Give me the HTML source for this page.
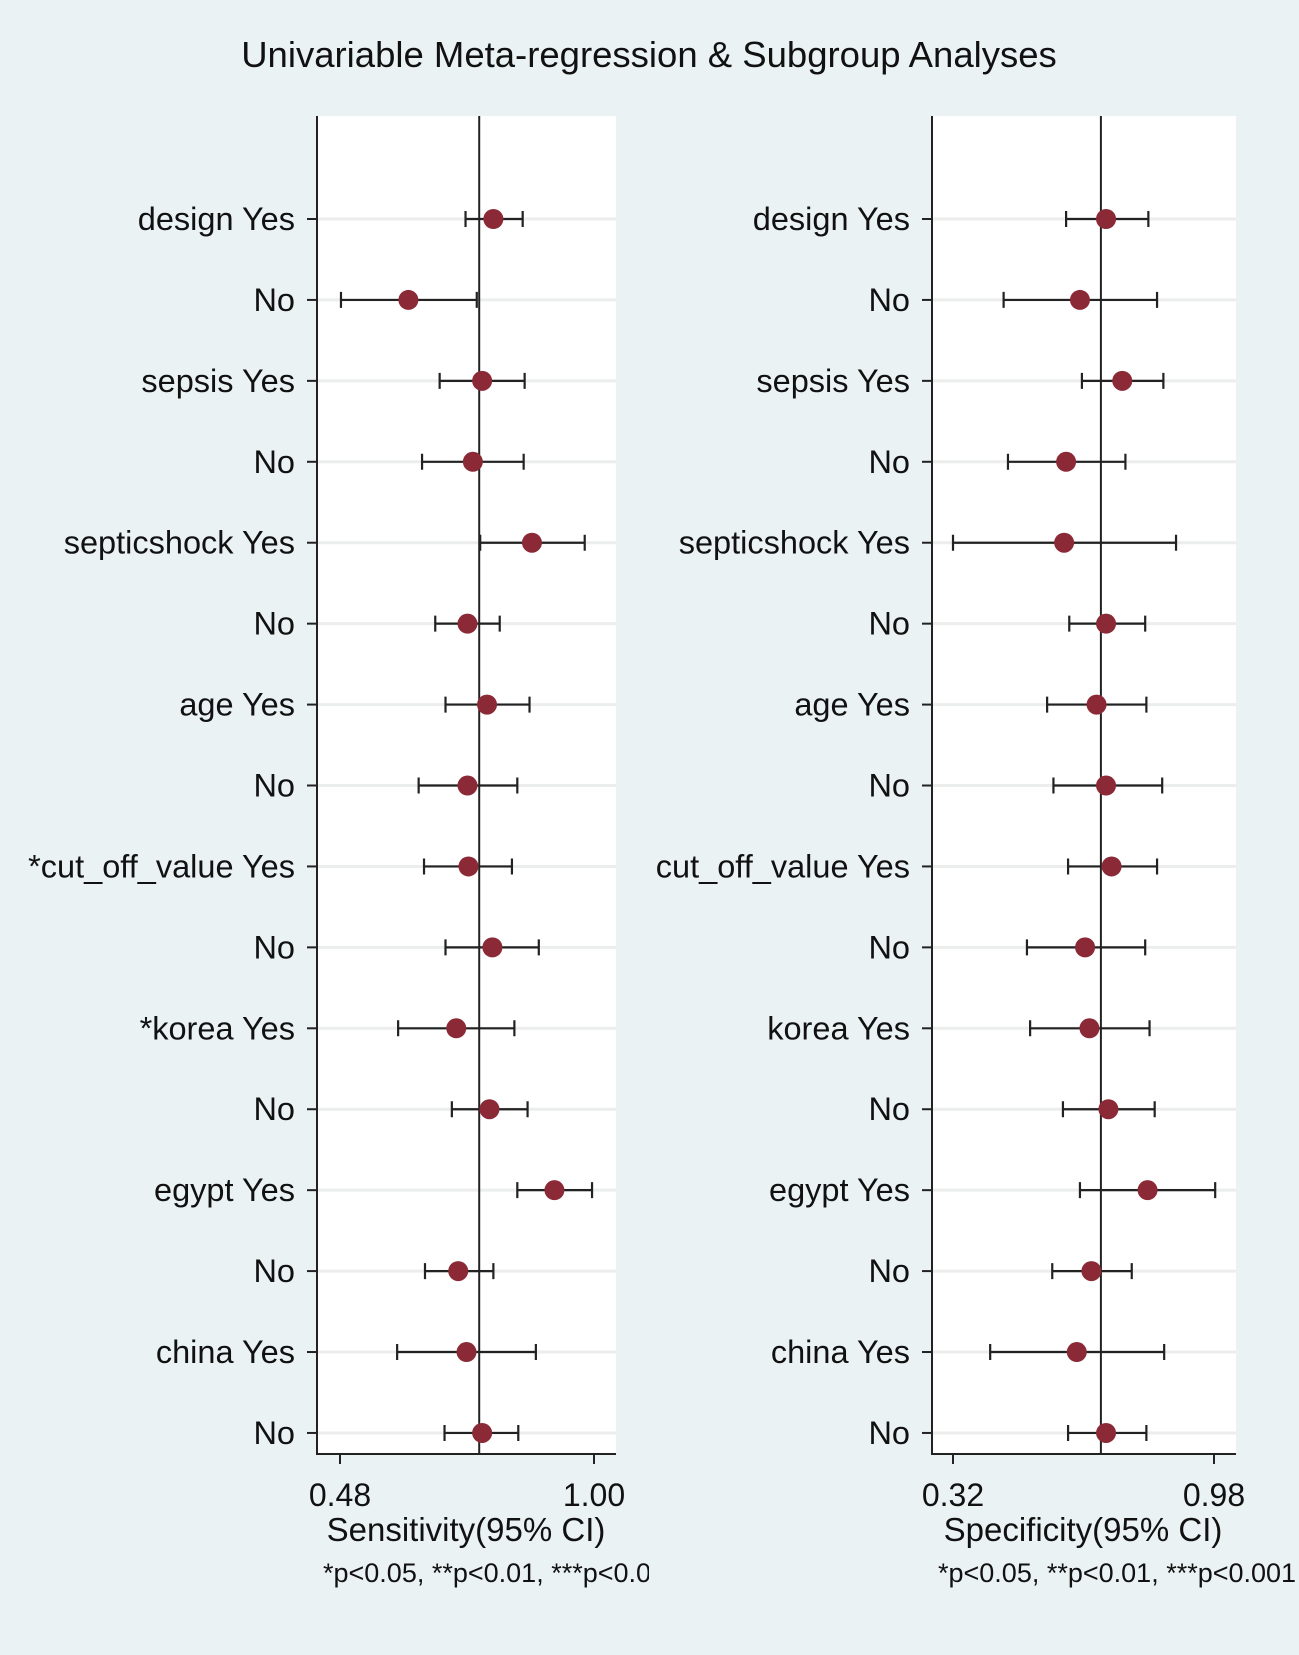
<!DOCTYPE html>
<html><head><meta charset="utf-8"><style>
html,body{margin:0;padding:0;background:#eaf2f3;}
svg{display:block;font-family:"Liberation Sans",sans-serif;}
</style></head><body>
<svg id="chart" width="1299" height="1655" viewBox="0 0 1299 1655">
<rect x="0" y="0" width="1299" height="1655" fill="#eaf2f3"/>
<text x="649" y="67" text-anchor="middle" font-size="36.5" fill="#111">Univariable Meta-regression &amp; Subgroup Analyses</text>
<defs>
<clipPath id="clipL"><rect x="0" y="0" width="649" height="1655"/></clipPath>
</defs>
<g id="panels"></g>
</svg>
<script>
const categories = ["design Yes","No","sepsis Yes","No","septicshock Yes","No","age Yes","No","*cut_off_value Yes","No","*korea Yes","No","egypt Yes","No","china Yes","No"];
const categoriesSpec = ["design Yes","No","sepsis Yes","No","septicshock Yes","No","age Yes","No","cut_off_value Yes","No","korea Yes","No","egypt Yes","No","china Yes","No"];
const sensPoint = [0.794,0.620,0.771,0.752,0.873,0.741,0.781,0.741,0.743,0.792,0.718,0.786,0.919,0.722,0.739,0.771];
const sensLow   = [0.737,0.482,0.684,0.648,0.767,0.675,0.696,0.641,0.652,0.696,0.599,0.709,0.843,0.654,0.597,0.694];
const sensHigh  = [0.854,0.760,0.858,0.856,0.981,0.807,0.868,0.843,0.832,0.887,0.837,0.864,0.996,0.794,0.881,0.845];
const specPoint = [0.707,0.641,0.748,0.606,0.601,0.707,0.683,0.707,0.721,0.654,0.665,0.713,0.812,0.670,0.633,0.707];
const specLow   = [0.606,0.448,0.646,0.459,0.320,0.614,0.558,0.574,0.611,0.507,0.515,0.598,0.641,0.571,0.414,0.611];
const specHigh  = [0.814,0.836,0.852,0.756,0.884,0.806,0.809,0.849,0.836,0.806,0.817,0.830,0.983,0.772,0.854,0.809];
const sensRef = 0.765;
const specRef = 0.694;
const sensTicks = [0.48, 1.00];
const specTicks = [0.32, 0.98];
const sensTickLabels = ["0.48","1.00"];
const specTickLabels = ["0.32","0.98"];

const NS="http://www.w3.org/2000/svg";
const root=document.getElementById('panels');
function mk(tag,attrs,parent){const e=document.createElementNS(NS,tag);for(const k in attrs)e.setAttribute(k,attrs[k]);(parent||root).appendChild(e);return e;}
const yTop=219, yStep=80.93;
function yScale(i){return yTop+i*yStep;}

function panel(cfg){
  const g=mk('g',{});
  
  
  const xs=v=>cfg.px0+(v-cfg.t0)/(cfg.t1-cfg.t0)*(cfg.px1-cfg.px0);
  const bg=mk('rect',{x:cfg.axisX,y:116,width:cfg.right-cfg.axisX,height:1454-116,fill:'#fff'},g);
  
  
  cfg.labels.forEach((lab,i)=>{
    const y=yScale(i);
    const gl=mk('line',{x1:cfg.axisX,x2:cfg.right,y1:y,y2:y,stroke:'#eceeee','stroke-width':3},g);
    
    
    const tk=mk('line',{x1:cfg.axisX-10,x2:cfg.axisX,y1:y,y2:y,stroke:'#222','stroke-width':2},g);
    
    
    const t=mk('text',{x:cfg.axisX-22,y:y+11,'text-anchor':'end','font-size':32.5,fill:'#111'},g);
    t.textContent=lab;
    
    
  });
  const ref=mk('line',{x1:xs(cfg.ref),x2:xs(cfg.ref),y1:116,y2:1454,stroke:'#222','stroke-width':2},g);
  
  
  cfg.labels.forEach((lab,i)=>{
    const y=yScale(i), lo=xs(cfg.low[i]), hi=xs(cfg.high[i]);
    const ci=mk('path',{d:`M${lo},${y}H${hi}M${lo},${y-8}V${y+8}M${hi},${y-8}V${y+8}`,stroke:'#222','stroke-width':2.2,fill:'none'},g);
    
    
    const c=mk('circle',{cx:xs(cfg.pt[i]),cy:y,r:10,fill:'#8b2a36'},g);
    
    
  });
  const ay=mk('line',{x1:cfg.axisX,x2:cfg.axisX,y1:116,y2:1455,stroke:'#222','stroke-width':2},g);
  
  
  const ax=mk('line',{x1:cfg.axisX,x2:cfg.right,y1:1454,y2:1454,stroke:'#222','stroke-width':2},g);
  
  
  cfg.ticks.forEach((v,i)=>{
    const x=xs(v);
    const tk=mk('line',{x1:x,x2:x,y1:1454,y2:1464,stroke:'#222','stroke-width':2},g);
    
    
    const t=mk('text',{x:x,y:1506,'text-anchor':'middle','font-size':32,fill:'#111'},g);
    t.textContent=cfg.tickLabels[i];
    
    
  });
  const at=mk('text',{x:cfg.titleX,y:1541,'text-anchor':'middle','font-size':33,fill:'#111'},g);
  at.textContent=cfg.title;
  
  
  const fn=mk('text',{x:cfg.noteX,y:1582,'font-size':27,fill:'#111'},g);
  if(cfg.clip) fn.setAttribute('clip-path','url(#clipL)');
  fn.textContent='*p<0.05, **p<0.01, ***p<0.001';
  
  
}
panel({name:'sensitivity',axisX:317,right:616,px0:340,px1:594,t0:0.48,t1:1.00,ref:sensRef,labels:categories,pt:sensPoint,low:sensLow,high:sensHigh,ticks:sensTicks,tickLabels:sensTickLabels,title:'Sensitivity(95% CI)',titleX:466,noteX:323,clip:true});
panel({name:'specificity',axisX:932,right:1236,px0:953,px1:1214,t0:0.32,t1:0.98,ref:specRef,labels:categoriesSpec,pt:specPoint,low:specLow,high:specHigh,ticks:specTicks,tickLabels:specTickLabels,title:'Specificity(95% CI)',titleX:1083,noteX:938,clip:false});
</script>
</body></html>
